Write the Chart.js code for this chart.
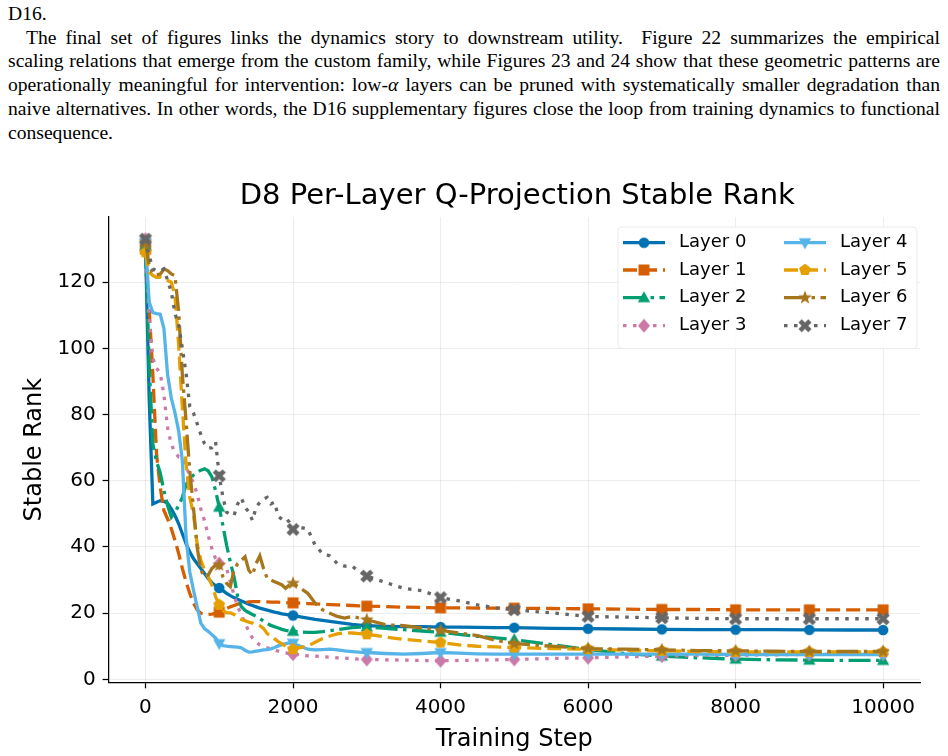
<!DOCTYPE html>
<html lang="en">
<head>
<meta charset="UTF-8">
<title>D8 Per-Layer Q-Projection Stable Rank</title>
<script src="https://cdn.jsdelivr.net/npm/chart.js@4.4.1/dist/chart.umd.min.js"></script>
<style>
  body { margin: 0; background: #fff; width: 948px; height: 756px; overflow: hidden; position: relative; }
  #text { position: absolute; left: 8px; top: 2px; width: 932px; font-family: "Liberation Serif", "Times New Roman", serif; font-size: 19.6px; line-height: 23.7px; color: #000; }
  #text div { white-space: nowrap; }
  #text .j { text-align: justify; text-align-last: justify; }
  #text .ind { padding-left: 18px; }
  #wrap { position: absolute; left: 0; top: 160px; width: 948px; height: 596px; }
</style>
</head>
<body>
<div id="text">
  <div>D16.</div>
  <div class="j ind">The final set of figures links the dynamics story to downstream utility.&nbsp; Figure 22 summarizes the empirical</div>
  <div class="j">scaling relations that emerge from the custom family, while Figures 23 and 24 show that these geometric patterns are</div>
  <div class="j">operationally meaningful for intervention: low-<i>α</i> layers can be pruned with systematically smaller degradation than</div>
  <div class="j">naive alternatives. In other words, the D16 supplementary figures close the loop from training dynamics to functional</div>
  <div>consequence.</div>
</div>
<div id="wrap"><canvas id="chart"></canvas></div>

<script>
// training steps shared by all layers
const steps = [0, 50, 100, 150, 200, 250, 300, 350, 400, 450, 500, 550, 600, 650, 700, 750, 800, 850, 900, 950,
  1000, 1050, 1100, 1150, 1200, 1250, 1300, 1350, 1400, 1450, 1500, 1550, 1600, 1650, 1700, 1750, 1800, 1850, 1900, 1950,
  2000, 2100, 2200, 2300, 2400, 2500, 2600, 2700, 2800, 2900, 3000,
  3250, 3500, 3750, 4000, 4250, 4500, 4750, 5000,
  5500, 6000, 6500, 7000, 7500, 8000, 8500, 9000, 9500, 10000];

const layer0 = [131, 85, 53, 53.5, 54, 53.8, 53.2, 51.5, 49.5, 47, 44, 41, 38.5, 36.5, 35, 33.5, 32, 30.5, 29.2, 28.3,
  27.6, 26.8, 26, 25.3, 24.7, 24.2, 23.7, 23.2, 22.7, 22.3, 21.9, 21.5, 21.2, 20.9, 20.6, 20.3, 20.1, 19.8, 19.6, 19.4,
  19.3, 18.9, 18.5, 18.1, 17.8, 17.5, 17.2, 16.9, 16.6, 16.4, 16.2,
  16.0, 15.9, 15.9, 15.8, 15.8, 15.7, 15.6, 15.6,
  15.4, 15.3, 15.2, 15.1, 15.0, 15.0, 15.0, 14.95, 14.9, 14.9];
const layer1 = [130, 112, 92, 68, 58, 51, 48.5, 45.5, 42, 38, 33.5, 29.5, 26, 23, 21, 20, 19.7, 19.6, 19.7, 19.9,
  20.3, 20.8, 21.4, 21.9, 22.3, 22.7, 23, 23.2, 23.4, 23.5, 23.5, 23.5, 23.4, 23.4, 23.3, 23.3, 23.3, 23.2, 23.2, 23.1,
  23.1, 23.0, 22.9, 22.8, 22.7, 22.6, 22.5, 22.4, 22.3, 22.2, 22.1,
  22.0, 21.8, 21.7, 21.6, 21.6, 21.5, 21.5, 21.5,
  21.4, 21.3, 21.2, 21.1, 21.1, 21.0, 21.0, 21.0, 21.0, 21.0];
const layer2 = [131, 95, 71, 65.8, 62.4, 57, 52.5, 49, 50.5, 52.5, 55, 58.8, 60.5, 61.7, 62.6, 63.2, 63.6, 63, 61.2, 57,
  52, 46.4, 40.5, 35.5, 31, 25, 22, 20.8, 20.2, 19.6, 19.1, 18.4, 17.6, 16.9, 16.3, 15.9, 15.5, 15.1, 14.8, 14.6,
  14.5, 14.3, 14.2, 14.2, 14.4, 14.7, 15.0, 15.3, 15.6, 15.8, 15.8,
  15.4, 15.0, 14.6, 14.2, 13.6, 13.0, 12.5, 12.0,
  10.5, 9.0, 7.8, 7.0, 6.5, 6.1, 5.9, 5.8, 5.7, 5.7];
const layer3 = [133, 109, 97, 94, 92.5, 86, 76, 71, 68.5, 67.2, 67, 64.5, 61.5, 59.5, 56, 51.5, 48, 43.5, 39.5, 36.5,
  35, 34.5, 33.5, 29.5, 25.5, 22, 19.5, 17, 14.5, 12.5, 11.2, 10.4, 9.9, 9.5, 9.2, 8.8, 8.5, 8.2, 8.0, 7.8,
  7.6, 7.4, 7.1, 7.0, 6.8, 6.7, 6.5, 6.4, 6.2, 6.1, 6.0,
  5.9, 5.8, 5.7, 5.6, 5.7, 5.8, 5.9, 6.0,
  6.3, 6.5, 6.8, 7.0, 7.2, 7.3, 7.4, 7.5, 7.6, 7.6];
const layer4 = [132, 114, 110.8, 110.5, 110.3, 106, 92, 85, 80.5, 75, 66, 43, 32.5, 27, 22, 17, 15.3, 14.5, 13.5, 12.5,
  10.8, 10.2, 10, 9.9, 9.8, 9.7, 9.5, 8.8, 8.2, 8.3, 8.5, 8.7, 8.9, 9.0, 9.2, 9.6, 10.1, 10.5, 10.8, 11.0,
  10.9, 10.0, 9.1, 8.9, 9.0, 9.1, 8.9, 8.6, 8.4, 8.2, 8.1,
  7.8, 7.6, 7.8, 8.1, 7.9, 7.7, 7.6, 7.6,
  7.6, 7.6, 7.6, 7.6, 7.6, 7.5, 7.5, 7.5, 7.5, 7.5];
const layer5 = [129, 123, 122, 121.5, 121.5, 121, 120.5, 120, 116, 101, 82, 65, 55, 50, 41, 36, 33, 31, 28.5, 25,
  22.5, 20.8, 20.1, 20.1, 19.6, 18.8, 18.1, 17.7, 17.3, 17.0, 16.6, 16.2, 15.4, 13.8, 13.0, 12.2, 11.4, 10.7, 10.0, 9.4,
  9.1, 9.6, 10.1, 11.2, 12.3, 13.1, 13.7, 14.1, 14.0, 13.8, 13.6,
  12.8, 12.1, 11.6, 11.1, 10.4, 10.0, 9.8, 9.6,
  9.3, 9.1, 8.8, 8.6, 8.4, 8.3, 8.3, 8.3, 8.3, 8.3];
const layer6 = [132, 125, 122.5, 122.3, 122.4, 124, 123.5, 122.5, 122, 111, 92, 78, 63, 52, 40, 33, 31, 31.5, 33.5, 34.5,
  34.5, 31, 29, 28, 33, 35, 36, 37, 33, 31.5, 35, 37.3, 33.5, 30.5, 30, 29.5, 29, 28.5, 27.5, 28.5,
  29, 27.5, 26, 23, 21, 20, 19, 18.5, 19, 18.5, 18,
  16.5, 16.2, 15.5, 14.8, 14.0, 13.2, 11.8, 10.8,
  10.0, 9.3, 9.1, 8.9, 8.7, 8.6, 8.5, 8.4, 8.4, 8.4];
const layer7 = [133, 128, 124, 123.5, 123.4, 124, 120.5, 117, 110.5, 107, 100, 92.5, 82.5, 80.5, 77.3, 74, 71.2, 69.8, 70, 71.8,
  61.5, 55, 50.5, 49.8, 49.5, 53, 54.8, 52, 50.6, 48, 52, 53.5, 54.5, 55, 53, 53.5, 49.2, 48.4, 48.8, 47.5,
  45.3, 45.9, 45.4, 40.5, 38, 37.3, 35, 34.2, 34.2, 32.5, 31.2,
  29.3, 27.5, 26.8, 24.7, 23.7, 22.5, 21.6, 21.0,
  20.1, 19.0, 18.8, 18.6, 18.4, 18.3, 18.3, 18.3, 18.3, 18.3];

const layerNames = ['Layer 0', 'Layer 1', 'Layer 2', 'Layer 3', 'Layer 4', 'Layer 5', 'Layer 6', 'Layer 7'];
const xTicks = [0, 2000, 4000, 6000, 8000, 10000];
const yTicks = [0, 20, 40, 60, 80, 100, 120];

const titleText = 'D8 Per-Layer Q-Projection Stable Rank';
const FONT = '"DejaVu Sans", sans-serif';

const DASHED = [14, 6], DASHDOT = [22, 5.5, 3.5, 5.5], DOTTED = [3.5, 6.5];
const styles = [
  { color: '#0072B2', dash: [], shape: 'circle' },
  { color: '#D55E00', dash: DASHED, shape: 'square' },
  { color: '#009E73', dash: DASHDOT, shape: 'tri' },
  { color: '#CC79A7', dash: DOTTED, shape: 'diamond' },
  { color: '#56B4E9', dash: [], shape: 'tridown' },
  { color: '#E69F00', dash: DASHED, shape: 'pentagon' },
  { color: '#A6761D', dash: DASHDOT, shape: 'star' },
  { color: '#666666', dash: DOTTED, shape: 'x' }
];

function marker(shape, color) {
  const c = document.createElement('canvas');
  c.width = 18; c.height = 18;
  const g = c.getContext('2d');
  g.fillStyle = color;
  g.translate(9, 9);
  g.beginPath();
  if (shape === 'circle') {
    g.arc(0, 0, 5.3, 0, Math.PI * 2);
  } else if (shape === 'square') {
    g.rect(-5.5, -5.5, 11, 11);
  } else if (shape === 'tri') {
    g.moveTo(0, -6.5); g.lineTo(6.2, 4.5); g.lineTo(-6.2, 4.5);
  } else if (shape === 'tridown') {
    g.moveTo(0, 6.5); g.lineTo(6.2, -4.5); g.lineTo(-6.2, -4.5);
  } else if (shape === 'diamond') {
    g.moveTo(0, -7); g.lineTo(6, 0); g.lineTo(0, 7); g.lineTo(-6, 0);
  } else if (shape === 'pentagon') {
    for (let k = 0; k < 5; k++) {
      const a = -Math.PI / 2 + k * 2 * Math.PI / 5;
      g.lineTo(6.2 * Math.cos(a), 6.2 * Math.sin(a));
    }
  } else if (shape === 'star') {
    for (let k = 0; k < 10; k++) {
      const a = -Math.PI / 2 + k * Math.PI / 5;
      const r = k % 2 ? 3 : 7.2;
      g.lineTo(r * Math.cos(a), r * Math.sin(a));
    }
  } else if (shape === 'x') {
    g.rotate(Math.PI / 4);
    g.rect(-7, -2.3, 14, 4.6);
    g.rect(-2.3, -7, 4.6, 14);
  }
  g.closePath();
  g.fill();
  return c;
}

const allData = [layer0, layer1, layer2, layer3, layer4, layer5, layer6, layer7];
const markers = styles.map(s => marker(s.shape, s.color));

const datasets = allData.map((vals, i) => ({
  label: layerNames[i],
  data: steps.map((s, k) => ({ x: s, y: vals[k] })),
  borderColor: styles[i].color,
  backgroundColor: styles[i].color,
  borderWidth: 3.3,
  borderDash: styles[i].dash,
  pointStyle: markers[i],
  pointRadius: ctx => (ctx.raw && ctx.raw.x % 1000 === 0) ? 5 : 0,
  pointHoverRadius: 0,
  pointHitRadius: 0,
  tension: 0,
  fill: false,
  order: 7 - i
}));

// title over the plot area + legend box in the upper right
const overlay = {
  id: 'overlay',
  afterDraw(chart) {
    const g = chart.ctx, a = chart.chartArea;
    g.save();
    g.fillStyle = '#000';
    g.font = '29px ' + FONT;
    g.textAlign = 'center';
    g.textBaseline = 'middle';
    g.fillText(titleText, (a.left + a.right) / 2 + 3, 36);

    // legend frame
    const bx = 618, by = 67, bw = 299, bh = 121.5, r = 4;
    g.beginPath();
    g.moveTo(bx + r, by);
    g.arcTo(bx + bw, by, bx + bw, by + bh, r);
    g.arcTo(bx + bw, by + bh, bx, by + bh, r);
    g.arcTo(bx, by + bh, bx, by, r);
    g.arcTo(bx, by, bx + bw, by, r);
    g.closePath();
    g.fillStyle = 'rgba(255,255,255,0.85)';
    g.fill();
    g.strokeStyle = '#ebebeb';
    g.lineWidth = 1;
    g.stroke();

    const rows = [82.7, 110, 137.7, 165.7];
    const cols = [{ x0: 623, x1: 665, tx: 679 }, { x0: 784, x1: 826, tx: 840 }];
    g.font = '18px ' + FONT;
    g.textAlign = 'left';
    for (let i = 0; i < 8; i++) {
      const c = cols[Math.floor(i / 4)], y = rows[i % 4];
      g.strokeStyle = styles[i].color;
      g.lineWidth = 3.3;
      g.setLineDash(styles[i].dash);
      g.beginPath();
      g.moveTo(c.x0, y);
      g.lineTo(c.x1, y);
      g.stroke();
      g.setLineDash([]);
      const m = markers[i];
      g.drawImage(m, (c.x0 + c.x1) / 2 - m.width / 2, y - m.height / 2);
      g.fillStyle = '#000';
      g.fillText(layerNames[i], c.tx, y);
    }
    g.restore();
  }
};

const gridColor = 'rgba(0,0,0,0.07)';

new Chart(document.getElementById('chart'), {
  type: 'line',
  data: { datasets: datasets },
  options: {
    responsive: true,
    maintainAspectRatio: false,
    devicePixelRatio: 1,
    animation: false,
    events: [],
    layout: { padding: { top: 57, right: 28, left: 0, bottom: 0 } },
    plugins: { legend: { display: false }, tooltip: { enabled: false }, title: { display: false } },
    scales: {
      x: {
        type: 'linear',
        min: -500,
        max: 10500,
        afterBuildTicks: axis => { axis.ticks = xTicks.map(v => ({ value: v })); },
        afterFit: s => { s.height = 73.7; },
        ticks: { callback: v => String(v), color: '#000', font: { family: FONT, size: 20 }, padding: 7, maxRotation: 0 },
        grid: { color: gridColor, lineWidth: 1, tickColor: '#000', tickLength: 6, tickWidth: 1.25 },
        border: { color: '#000', width: 1.25 },
        title: { display: true, text: 'Training Step', color: '#000', font: { family: FONT, size: 24 }, padding: { top: 0, bottom: 1.6 } }
      },
      y: {
        min: -0.9,
        max: 139.7,
        afterBuildTicks: axis => { axis.ticks = yTicks.map(v => ({ value: v })); },
        afterFit: s => { s.width = 108.6; },
        ticks: { callback: v => String(v), color: '#000', font: { family: FONT, size: 20 }, padding: 7 },
        grid: { color: gridColor, lineWidth: 1, tickColor: '#000', tickLength: 6, tickWidth: 1.25 },
        border: { color: '#000', width: 1.25 },
        title: { display: true, text: 'Stable Rank', color: '#000', font: { family: FONT, size: 24 }, padding: { top: 20.6, bottom: 0 } }
      }
    }
  },
  plugins: [overlay]
});
</script>
</body>
</html>
